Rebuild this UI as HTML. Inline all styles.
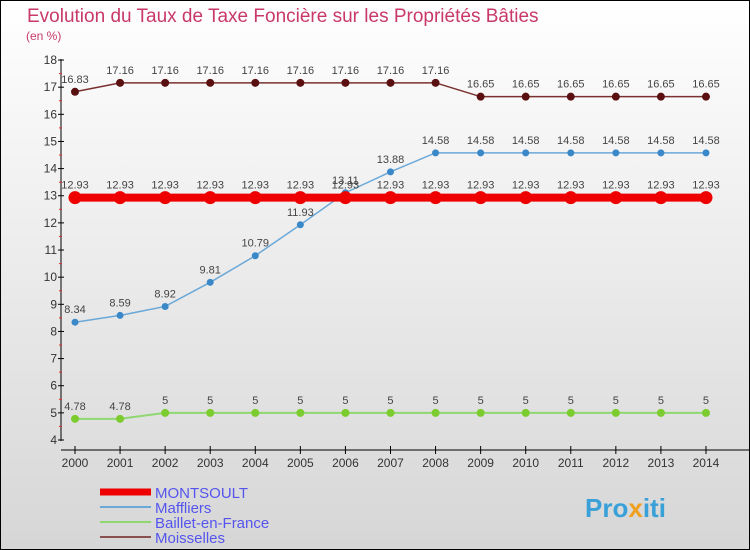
<!DOCTYPE html>
<html><head><meta charset="utf-8"><style>
body{margin:0}
#c{width:750px;height:550px;position:relative;box-sizing:border-box;border:1px solid #000;background:linear-gradient(#ffffff,#d6d6d6);font-family:"Liberation Sans",sans-serif;overflow:hidden}
</style></head><body>
<div id="c">
<svg id="s" width="750" height="550" style="position:absolute;left:-1px;top:-1px">
<text x="27" y="22" font-size="19" fill="#c8386a">Evolution du Taux de Taxe Foncière sur les Propriétés Bâties</text>
<text x="26" y="40" font-size="12" fill="#c8386a">(en %)</text>
<g id="g"></g>
<text x="585" y="517" font-size="26" font-weight="bold" fill="#3aa0d8">Pro<tspan fill="#f0a020">x</tspan>iti</text>
</svg></div>
<script>
const years=[2000,2001,2002,2003,2004,2005,2006,2007,2008,2009,2010,2011,2012,2013,2014];
const yTicks=[4,5,6,7,8,9,10,11,12,13,14,15,16,17,18];
const montsoult=[12.93,12.93,12.93,12.93,12.93,12.93,12.93,12.93,12.93,12.93,12.93,12.93,12.93,12.93,12.93];
const maffliers=[8.34,8.59,8.92,9.81,10.79,11.93,13.11,13.88,14.58,14.58,14.58,14.58,14.58,14.58,14.58];
const baillet=[4.78,4.78,5,5,5,5,5,5,5,5,5,5,5,5,5];
const moisselles=[16.83,17.16,17.16,17.16,17.16,17.16,17.16,17.16,17.16,16.65,16.65,16.65,16.65,16.65,16.65];
const X=i=>75+i*45.07, Y=v=>440-(v-4)*27.14;
const g=document.getElementById('g'),NS='http://www.w3.org/2000/svg';
function mk(t,a,p){const e=document.createElementNS(NS,t);for(const k in a)e.setAttribute(k,a[k]);(p||g).appendChild(e);return e;}
let e;
e=mk('line',{x1:61,y1:59,x2:61,y2:441,stroke:'#000'});


e=mk('line',{x1:61,y1:450,x2:750,y2:450,stroke:'#000'});


yTicks.forEach(v=>{
 mk('line',{x1:58,x2:64,y1:Y(v),y2:Y(v),stroke:'#000'});
 if(v<18)mk('line',{x1:59,x2:62,y1:Y(v+0.5),y2:Y(v+0.5),stroke:'#e03030'});
 e=mk('text',{x:57,y:Y(v)+4,'font-size':12,'text-anchor':'end',fill:'#333'});e.textContent=v;
 
 
});
years.forEach((y,i)=>{
 mk('line',{x1:X(i),x2:X(i),y1:446,y2:454,stroke:'#000'});
 e=mk('text',{x:X(i),y:467,'font-size':12,'text-anchor':'middle',fill:'#333'});e.textContent=y;
 
 
});
function series(d,col,dot,w,r,name){
 e=mk('polyline',{points:d.map((v,i)=>X(i)+','+Y(v)).join(' '),fill:'none',stroke:col,'stroke-width':w});
 
 
 d.forEach((v,i)=>{
  e=mk('circle',{cx:X(i),cy:Y(v),r:r,fill:dot});
  
  
  e=mk('text',{x:X(i),y:Y(v)-9,'font-size':11,'text-anchor':'middle',fill:'#444'});e.textContent=v;
  
  
 });
}
series(baillet,'#8fd870','#7ccc30',2,4,'baillet');
series(maffliers,'#6aa8d8','#3a88c8',1.5,3.5,'maffliers');
series(montsoult,'#ee0000','#ee0000',8,6.5,'montsoult');
series(moisselles,'#7a3030','#5a1010',1.5,4,'moisselles');
const leg=[['MONTSOULT','#ee0000',7],['Maffliers','#6aa8d8',2],['Baillet-en-France','#8fd870',2],['Moisselles','#8a5050',2]];
leg.forEach((l,i)=>{
 const yy=492+i*15;
 e=mk('line',{x1:100,x2:151,y1:yy,y2:yy,stroke:l[1],'stroke-width':l[2]});
 
 
 e=mk('text',{x:155,y:yy+6,'font-size':15,fill:'#5555ee'});e.textContent=l[0];
 
 
});
</script>
</body></html>
